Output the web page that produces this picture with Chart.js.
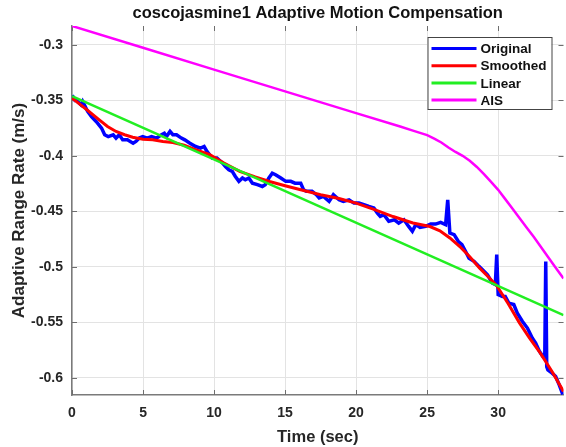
<!DOCTYPE html>
<html>
<head>
<meta charset="utf-8">
<script src="https://cdn.jsdelivr.net/npm/chart.js@4.4.1/dist/chart.umd.min.js"></script>
<style>
  html, body { margin: 0; padding: 0; background: #fff; }
</style>
</head>
<body>
<canvas id="myChart" width="566" height="447"></canvas>
<script>
'use strict'

// time (sec) / range rate (m/s)
const origT = [0, 0.05, 0.3, 0.63, 0.75, 0.87, 1.1, 1.37, 1.7, 2.08, 2.3, 2.55, 2.9, 3.1, 3.33, 3.57, 3.9, 4.3, 4.5, 4.74, 4.98,
  5.3, 5.6, 5.95, 6.3, 6.5, 6.65, 6.9, 7.1, 7.36, 7.7, 7.94, 8.3, 8.7, 9.05, 9.3, 9.5, 9.87, 10.2, 10.6, 10.8, 11.04, 11.28,
  11.5, 11.75, 12.0, 12.2, 12.45, 12.7, 13.05, 13.4, 13.6, 13.86, 14.1, 14.33, 14.7, 15.05, 15.4, 15.7, 16.1, 16.3, 16.5,
  16.9, 17.2, 17.4, 17.7, 18.1, 18.4, 18.8, 19.1, 19.5, 19.85, 20.2, 20.55, 20.9, 21.25, 21.5, 21.7, 21.96, 22.3, 22.7,
  23.0, 23.37, 23.7, 23.96, 24.2, 24.5, 24.9, 25.25, 25.6, 25.95, 26.3, 26.45, 26.6, 26.9, 27.2, 27.45, 27.7, 27.95, 28.3,
  28.65, 28.9, 29.25, 29.6, 29.8, 29.9, 30.0, 30.3, 30.5, 30.75, 31.1, 31.35, 31.7, 32.06, 32.4, 32.64, 32.9, 33.15, 33.28,
  33.35, 33.42, 33.5, 33.8, 34.05, 34.3, 34.55]
const origV = [-0.3455, -0.3466, -0.350, -0.354, -0.351, -0.354, -0.360, -0.3646, -0.369, -0.375, -0.381, -0.3826, -0.381,
  -0.384, -0.381, -0.3856, -0.3856, -0.3886, -0.387, -0.384, -0.3826, -0.384, -0.3826, -0.384, -0.381, -0.3796, -0.3826,
  -0.378, -0.381, -0.381, -0.384, -0.3856, -0.3886, -0.3916, -0.393, -0.3916, -0.396, -0.402, -0.402, -0.4066, -0.4096,
  -0.4126, -0.414, -0.4186, -0.423, -0.420, -0.4216, -0.420, -0.4246, -0.426, -0.4276, -0.426, -0.420, -0.4156, -0.417,
  -0.420, -0.423, -0.423, -0.4246, -0.4246, -0.4306, -0.432, -0.432, -0.435, -0.438, -0.4366, -0.441, -0.435, -0.4396,
  -0.441, -0.4396, -0.4426, -0.4426, -0.444, -0.4456, -0.447, -0.4516, -0.4546, -0.453, -0.459, -0.4576, -0.4606, -0.4576,
  -0.4636, -0.468, -0.462, -0.4645, -0.4636, -0.4615, -0.4615, -0.460, -0.462, -0.4396, -0.4696, -0.471, -0.4772, -0.480,
  -0.486, -0.4922, -0.495, -0.4996, -0.5027, -0.5072, -0.5147, -0.516, -0.489, -0.525, -0.5267, -0.5267, -0.5327, -0.534,
  -0.5417, -0.549, -0.5552, -0.5642, -0.5687, -0.576, -0.5808, -0.582, -0.4952, -0.590, -0.5928, -0.5958, -0.5988, -0.6063,
  -0.615]

const smoothT = [0, 0.5, 1.0, 1.92, 2.5, 3.1, 3.7, 4.27, 5.0, 5.68, 6.4, 7.1, 7.9, 8.6, 9.7, 10.7, 11.8, 12.9, 13.9, 15.0,
  16.1, 17.5, 18.8, 20.0, 21.3, 22.6, 24.0, 25.2, 25.9, 26.6, 27.3, 28.0, 28.7, 29.3, 29.9, 30.7, 31.5, 32.2, 32.96, 33.8, 34.6]
const smoothV = [-0.348, -0.353, -0.358, -0.3676, -0.3735, -0.378, -0.381, -0.3832, -0.385, -0.3856, -0.387, -0.388, -0.3905,
  -0.394, -0.399, -0.4065, -0.414, -0.419, -0.4231, -0.427, -0.4306, -0.435, -0.4385, -0.4426, -0.4485, -0.4547, -0.4605,
  -0.4637, -0.4675, -0.474, -0.4817, -0.491, -0.5012, -0.509, -0.517, -0.533, -0.5505, -0.564, -0.5775, -0.5945, -0.6123]

const linearT = [0, 34.6]
const linearV = [-0.3462, -0.5435]

const aisT = [0, 5, 10, 15, 20, 23.1, 24, 25, 25.5, 26, 26.5, 27, 27.5, 28, 28.5, 29, 29.5, 30, 30.5, 31, 31.5, 32, 32.5,
  33, 33.5, 34, 34.6]
const aisV = [-0.283, -0.3026, -0.3223, -0.3419, -0.3615, -0.3736, -0.3773, -0.3813, -0.3845, -0.388, -0.3925, -0.3965,
  -0.400, -0.4045, -0.410, -0.4165, -0.4235, -0.4306, -0.439, -0.4475, -0.456, -0.4645, -0.473, -0.482, -0.491, -0.500, -0.5105]

const xTicks = [0, 5, 10, 15, 20, 25, 30]
const yTicks = [-0.6, -0.55, -0.5, -0.45, -0.4, -0.35, -0.3]

const seriesNames = ['Original', 'Smoothed', 'Linear', 'AIS']
const seriesColors = ['#0000ff', '#ff0000', '#22ee22', '#ff00ff']

const FONT = '"Liberation Sans", Arial, Helvetica, sans-serif'
const toPoints = (ts, vs) => ts.map((t, i) => ({ x: t, y: vs[i] }))

const frame = {
  id: 'frame',
  beforeDatasetsDraw(chart) {
    const { ctx, chartArea: a, scales: { x, y } } = chart
    ctx.save()
    ctx.strokeStyle = '#6e6e6e'
    ctx.lineWidth = 1
    ctx.beginPath()
    xTicks.forEach((v) => {
      const px = Math.round(x.getPixelForValue(v)) + 0.5
      ctx.moveTo(px, a.bottom); ctx.lineTo(px, a.bottom - 5)
      ctx.moveTo(px, a.top); ctx.lineTo(px, a.top + 5)
    })
    yTicks.forEach((v) => {
      const py = Math.round(y.getPixelForValue(v)) + 0.5
      ctx.moveTo(a.left, py); ctx.lineTo(a.left + 5, py)
      ctx.moveTo(a.right, py); ctx.lineTo(a.right - 5, py)
    })
    ctx.stroke()
    ctx.restore()
  },
  afterDraw(chart) {
    const { ctx, chartArea: a } = chart
    ctx.save()
    // title
    ctx.fillStyle = '#111'
    ctx.font = 'bold 16.5px ' + FONT
    ctx.textAlign = 'center'
    ctx.textBaseline = 'middle'
    ctx.fillText('coscojasmine1 Adaptive Motion Compensation', (a.left + a.right) / 2, 13)

    // legend
    const bx = a.right - 136, by = a.top + 11, bw = 124, bh = 72
    ctx.fillStyle = '#fff'
    ctx.fillRect(bx, by, bw, bh)
    ctx.strokeStyle = '#444'
    ctx.lineWidth = 1
    ctx.strokeRect(bx + 0.5, by + 0.5, bw, bh)
    ctx.font = 'bold 13.5px ' + FONT
    ctx.textAlign = 'left'
    seriesNames.forEach((name, i) => {
      const ry = by + 11.5 + i * 17.2
      ctx.strokeStyle = seriesColors[i]
      ctx.lineWidth = 3
      ctx.beginPath()
      ctx.moveTo(bx + 4, ry); ctx.lineTo(bx + 49, ry)
      ctx.stroke()
      ctx.fillStyle = '#111'
      ctx.fillText(name, bx + 53, ry + 1)
    })
    ctx.restore()
  }
}

const ctx = document.getElementById('myChart')

const myChart = new Chart(ctx, {
  type: 'scatter',
  data: {
    datasets: [
      { label: seriesNames[0], data: toPoints(origT, origV), borderColor: seriesColors[0], borderWidth: 3.5, order: 4 },
      { label: seriesNames[1], data: toPoints(smoothT, smoothV), borderColor: seriesColors[1], borderWidth: 3, order: 3 },
      { label: seriesNames[2], data: toPoints(linearT, linearV), borderColor: seriesColors[2], borderWidth: 2.5, order: 2 },
      { label: seriesNames[3], data: toPoints(aisT, aisV), borderColor: seriesColors[3], borderWidth: 2.5, order: 1 },
    ].map((d) => ({ ...d, showLine: true, pointRadius: 0, fill: false, tension: 0 })),
  },
  options: {
    responsive: false,
    animation: false,
    layout: { padding: { top: 26, right: 2.5, left: 0, bottom: 0 } },
    plugins: {
      legend: { display: false },
      title: { display: false },
      tooltip: { enabled: false },
    },
    scales: {
      x: {
        type: 'linear',
        min: 0,
        max: 34.6,
        afterFit: (s) => { s.height = 52 },
        afterBuildTicks: (s) => { s.ticks = xTicks.map((v) => ({ value: v })) },
        grid: { color: '#e3e3e3', lineWidth: 1, drawTicks: false },
        border: { display: true, color: '#7a7a7a', width: 1.5 },
        ticks: { padding: 10, color: '#262626', font: { family: FONT, size: 14, weight: 'bold' } },
        title: {
          display: true,
          text: 'Time (sec)',
          color: '#262626',
          font: { family: FONT, size: 16.5, weight: 'bold' },
          padding: { top: 0, bottom: 0 },
        },
      },
      y: {
        min: -0.6155,
        max: -0.283,
        afterFit: (s) => { s.width = 72 },
        afterBuildTicks: (s) => { s.ticks = yTicks.map((v) => ({ value: v })) },
        grid: { color: '#e3e3e3', lineWidth: 1, drawTicks: false },
        border: { display: true, color: '#7a7a7a', width: 1.5 },
        ticks: {
          padding: 9,
          color: '#262626',
          font: { family: FONT, size: 14, weight: 'bold' },
          callback: (v) => String(+v.toFixed(2)),
        },
        title: {
          display: true,
          text: 'Adaptive Range Rate (m/s)',
          color: '#262626',
          font: { family: FONT, size: 17, weight: 'bold' },
          padding: { top: 9, bottom: 0 },
        },
      },
    },
  },
  plugins: [frame],
})
</script>
</body>
</html>
